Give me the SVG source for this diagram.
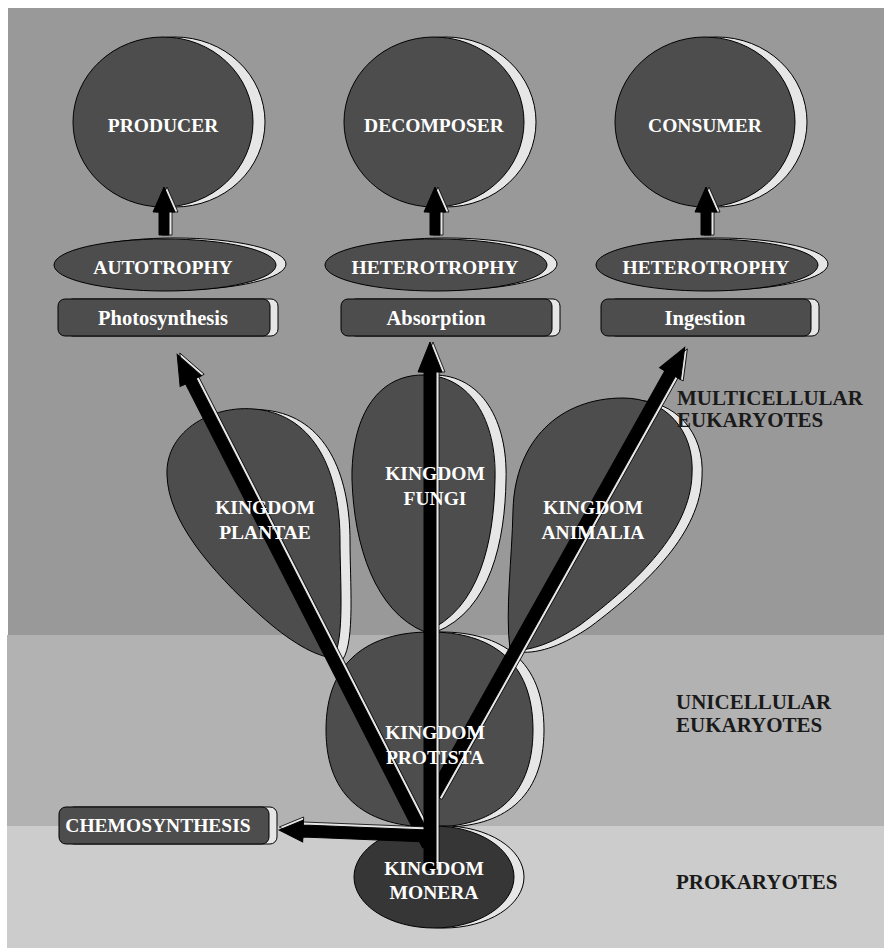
<svg xmlns="http://www.w3.org/2000/svg" xmlns:xlink="http://www.w3.org/1999/xlink" width="884" height="948" viewBox="0 0 884 948">
<style>
.node{fill:#4d4d4d;stroke:#000;stroke-width:1}
.dark{fill:#363636;stroke:#000;stroke-width:1}
.sh{fill:#e6e6e6;stroke:#000;stroke-width:1}
.arr{fill:#000;stroke:#000;stroke-width:1}
.arrsh{fill:#e6e6e6;stroke:#000;stroke-width:0.8}
.t{font-family:"Liberation Serif","Times New Roman",serif;font-weight:bold;fill:#fff;text-anchor:middle}
.big{font-size:19.5px}
.box{font-size:20.5px}
.side{font-family:"Liberation Serif","Times New Roman",serif;font-weight:bold;font-size:21px;fill:#1a1a1a}
</style>
<rect x="0" y="0" width="884" height="948" fill="#fff"/>
<g id="bands">
<rect x="8" y="8" width="876" height="627" fill="#999"/>
<rect x="7" y="635" width="877" height="191" fill="#b2b2b2"/>
<rect x="7" y="826" width="877" height="122" fill="#ccc"/>
</g>

<g id="producer">
<ellipse class="sh" cx="175" cy="122" rx="90" ry="85"/>
<ellipse class="node" cx="163" cy="122" rx="90" ry="85"/>
</g>
<g id="decomposer">
<ellipse class="sh" cx="446" cy="122" rx="90" ry="85"/>
<ellipse class="node" cx="434" cy="122" rx="90" ry="85"/>
</g>
<g id="consumer">
<ellipse class="sh" cx="717" cy="122" rx="90" ry="85"/>
<ellipse class="node" cx="705" cy="122" rx="90" ry="85"/>
</g>

<g id="autotrophy">
<ellipse class="sh" cx="175" cy="264" rx="111" ry="26"/>
<ellipse class="node" cx="165" cy="265" rx="111" ry="26"/>
</g>
<g id="heterotrophy1">
<ellipse class="sh" cx="446" cy="264" rx="111" ry="26"/>
<ellipse class="node" cx="436" cy="265" rx="111" ry="26"/>
</g>
<g id="heterotrophy2">
<ellipse class="sh" cx="717" cy="264" rx="111" ry="26"/>
<ellipse class="node" cx="707" cy="265" rx="111" ry="26"/>
</g>

<g id="photosynthesis">
<rect class="sh" x="66" y="299" width="212" height="37" rx="7"/>
<rect class="node" x="58" y="299" width="212" height="37" rx="7"/>
</g>
<g id="absorption">
<rect class="sh" x="349" y="299" width="211" height="37" rx="7"/>
<rect class="node" x="341" y="299" width="211" height="37" rx="7"/>
</g>
<g id="ingestion">
<rect class="sh" x="609" y="299" width="210" height="37" rx="7"/>
<rect class="node" x="601" y="299" width="210" height="37" rx="7"/>
</g>
<g id="chemosynthesis">
<rect class="sh" x="67" y="807" width="210" height="37" rx="7"/>
<rect class="node" x="59" y="807" width="210" height="37" rx="7"/>
</g>

<g id="plantae">
<path class="sh" transform="translate(10,1)" d="M333 658 C345 640 340 580 340 540 C340 480 320 420 262 410 C215 402 165 430 167 475 C168 520 210 570 260 615 C290 642 315 656 333 658 Z"/>
<path class="node" d="M333 658 C345 640 340 580 340 540 C340 480 320 420 262 410 C215 402 165 430 167 475 C168 520 210 570 260 615 C290 642 315 656 333 658 Z"/>
</g>
<g id="fungi">
<path class="sh" transform="translate(11,0)" d="M423 375 C470 375 497 420 495 480 C494 540 480 610 425 632 C375 612 354 545 352 480 C351 420 375 375 423 375 Z"/>
<path class="node" d="M423 375 C470 375 497 420 495 480 C494 540 480 610 425 632 C375 612 354 545 352 480 C351 420 375 375 423 375 Z"/>
</g>
<g id="protista">
<path class="sh" transform="translate(11,0)" d="M430 632 C490 632 533 660 533 730 C533 800 490 827 432 827 C370 827 326 800 326 730 C326 660 370 632 430 632 Z"/>
<path class="node" d="M430 632 C490 632 533 660 533 730 C533 800 490 827 432 827 C370 827 326 800 326 730 C326 660 370 632 430 632 Z"/>
</g>
<g id="animalia">
<path class="sh" transform="translate(10,2)" d="M510 650 C505 610 512 560 513 510 C515 440 560 398 623 398 C665 398 695 430 692 475 C690 530 640 580 580 625 C555 642 530 652 510 650 Z"/>
<path class="node" d="M510 650 C505 610 512 560 513 510 C515 440 560 398 623 398 C665 398 695 430 692 475 C690 530 640 580 580 625 C555 642 530 652 510 650 Z"/>
</g>
<g id="monera">
<ellipse class="sh" cx="444" cy="877" rx="80" ry="51"/>
<ellipse class="dark" cx="434" cy="877" rx="80" ry="51"/>
</g>

<defs>
<polygon id="aSmall" points="-5,0 -5,-23 -11,-23 0,-48 11,-23 5,-23 5,0"/>
<polygon id="aLeft" points="-6,0 -6,-521 -12,-521 0,-551 12,-521 6,-521 6,0"/>
<polygon id="aRight" points="-6,0 -6,-483 -12,-483 0,-513 12,-483 6,-483 6,0"/>
<polygon id="aVert" points="-6,0 -6,-498 -12,-498 0,-528 12,-498 6,-498 6,0"/>
<polygon id="aChem" points="-6,0 -6,-125 -11,-125 0,-149 11,-125 6,-125 6,0"/>
</defs>

<g id="connectors">
<g transform="translate(164,235)"><use href="#aSmall" class="arrsh" x="3"/><use href="#aSmall" class="arr"/></g>
<g transform="translate(435,235)"><use href="#aSmall" class="arrsh" x="3"/><use href="#aSmall" class="arr"/></g>
<g transform="translate(706,235)"><use href="#aSmall" class="arrsh" x="3"/><use href="#aSmall" class="arr"/></g>
<g transform="translate(428,845) rotate(-27.08)"><use href="#aLeft" class="arrsh" x="3"/><use href="#aLeft" class="arr"/></g>
<g transform="translate(434,795) rotate(29.26)"><use href="#aRight" class="arrsh" x="3"/><use href="#aRight" class="arr"/></g>
<g transform="translate(428,836) rotate(-87.7)"><use href="#aChem" class="arrsh" x="3"/><use href="#aChem" class="arr"/></g>
<g transform="translate(430,870)"><use href="#aVert" class="arrsh" x="3"/><use href="#aVert" class="arr"/></g>
</g>

<g id="labels">
<text class="t big" x="163" y="132">PRODUCER</text>
<text class="t big" x="434" y="132">DECOMPOSER</text>
<text class="t big" x="705" y="132">CONSUMER</text>
<text class="t big" x="163" y="274">AUTOTROPHY</text>
<text class="t big" x="435" y="274">HETEROTROPHY</text>
<text class="t big" x="706" y="274">HETEROTROPHY</text>
<text class="t box" x="163" y="325">Photosynthesis</text>
<text class="t box" x="436" y="325">Absorption</text>
<text class="t box" x="705" y="325">Ingestion</text>
<text class="t big" x="158" y="832">CHEMOSYNTHESIS</text>
<text class="t big" x="265" y="514">KINGDOM</text>
<text class="t big" x="265" y="539">PLANTAE</text>
<text class="t big" x="435" y="480">KINGDOM</text>
<text class="t big" x="435" y="505">FUNGI</text>
<text class="t big" x="593" y="514">KINGDOM</text>
<text class="t big" x="593" y="539">ANIMALIA</text>
<text class="t big" x="435" y="739">KINGDOM</text>
<text class="t big" x="435" y="764">PROTISTA</text>
<text class="t big" x="434" y="875">KINGDOM</text>
<text class="t big" x="434" y="899">MONERA</text>
<text class="side" x="677" y="405">MULTICELLULAR</text>
<text class="side" x="677" y="427">EUKARYOTES</text>
<text class="side" x="676" y="709">UNICELLULAR</text>
<text class="side" x="676" y="732">EUKARYOTES</text>
<text class="side" x="676" y="889">PROKARYOTES</text>
</g>
</svg>
